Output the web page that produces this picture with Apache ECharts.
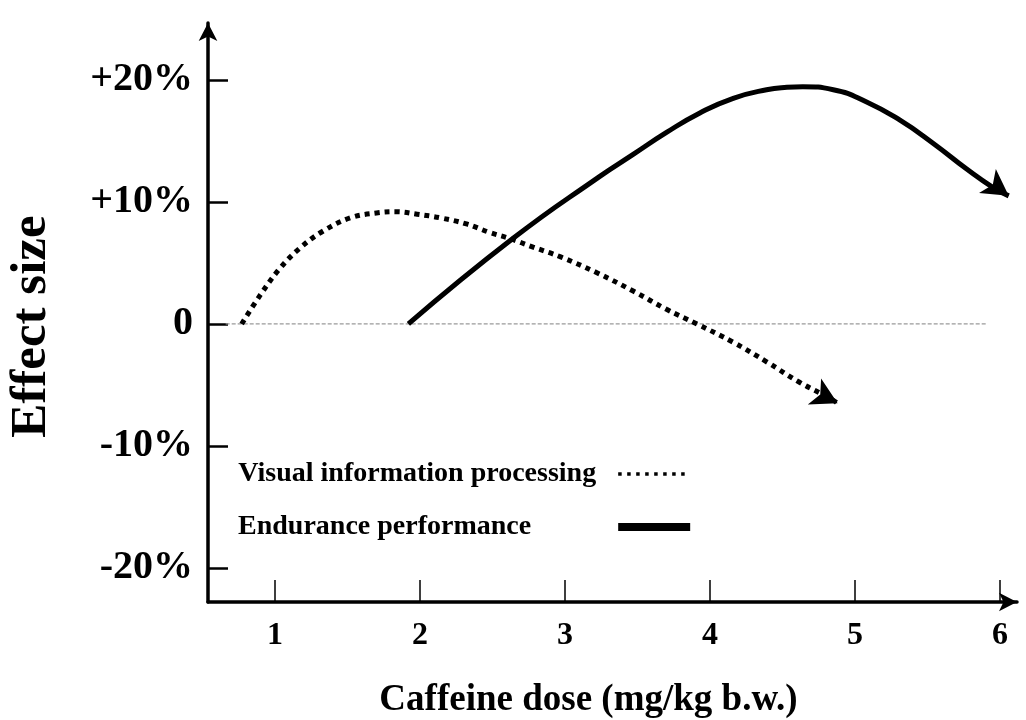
<!DOCTYPE html>
<html>
<head>
<meta charset="utf-8">
<title>Caffeine dose vs effect size</title>
<script src="https://cdn.jsdelivr.net/npm/echarts@6/dist/echarts.min.js"></script>
<style>
	html, body { margin: 0; padding: 0; background: #ffffff; }
	#chart { width: 1026px; height: 720px; }
</style>
</head>
<body>
<div id="chart"></div>
<script>
	// data (dose in mg/kg, effect in %)
	var seriesNames = ['Visual information processing', 'Endurance performance'];

	var visualDose = [0.77, 0.90, 1.03, 1.17, 1.33, 1.52, 1.70, 1.84, 1.98, 2.14, 2.32, 2.48, 2.62, 2.78, 2.97, 3.22, 3.47, 3.70, 3.91, 4.16, 4.39, 4.62, 4.83, 4.88];
	var visualEffect = [0, 2.4, 4.5, 6.2, 7.6, 8.7, 9.1, 9.2, 9.0, 8.7, 8.2, 7.5, 7.0, 6.3, 5.5, 4.2, 2.7, 1.2, 0, -1.5, -3.1, -4.8, -6.1, -6.5];

	var enduranceDose = [1.92, 2.64, 3.24, 3.47, 3.70, 3.93, 4.16, 4.39, 4.53, 4.64, 4.85, 5.08, 5.31, 5.54, 5.77, 5.95, 6.06];
	var enduranceEffect = [0, 7.0, 12.1, 13.9, 15.7, 17.3, 18.5, 19.2, 19.4, 19.45, 19.2, 18.2, 16.7, 14.8, 12.7, 11.2, 10.5];

	var zeroDose = [0.66, 5.91];
	var zeroEffect = [0, 0];

	var xTicks = [1, 2, 3, 4, 5, 6];
	var xTickLabels = ['1', '2', '3', '4', '5', '6'];
	var yTicks = [-20, -10, 0, 10, 20];
	var yTickLabels = ['-20%', '-10%', '0', '+10%', '+20%'];

	var font = '"Liberation Serif", "Times New Roman", serif';

	// legend: text left aligned, line samples lined up on the right
	var legendTextLeft = 238, legendIconLeft = 618, legendFontSize = 28;
	var ctx = document.createElement('canvas').getContext('2d');
	ctx.font = 'bold ' + legendFontSize + 'px ' + font;
	function padFor(name) {
		return Math.max(0, Math.round(legendIconLeft - 5 - legendTextLeft - ctx.measureText(name).width));
	}

	function pairs(xs, ys) {
		return xs.map(function(x, i) { return [x, ys[i]]; });
	}
	function withArrow(xs, ys, rotate) {
		var d = pairs(xs, ys);
		var last = d.length - 1;
		d[last] = {
			value: d[last],
			symbol: 'arrow',
			symbolSize: [22, 26],
			symbolRotate: rotate,
			itemStyle: { color: '#000000' }
		};
		return d;
	}

	var chart = echarts.init(document.getElementById('chart'));
	chart.setOption({
		backgroundColor: '#ffffff',
		animation: false,
		grid: {
			left: 208,
			right: 9,
			top: 23,
			bottom: 118,
			containLabel: false,
			outerBoundsMode: 'none'
		},
		legend: {
			orient: 'vertical',
			left: legendTextLeft - 5,
			top: 454,
			align: 'right',
			itemWidth: 72,
			itemHeight: 30,
			itemGap: 23,
			selectedMode: false,
			itemStyle: { opacity: 0 },
			textStyle: {
				fontFamily: font,
				fontWeight: 'bold',
				fontSize: legendFontSize,
				lineHeight: 30,
				color: '#000000'
			},
			data: [{
					name: seriesNames[0],
					textStyle: { padding: [0, padFor(seriesNames[0]), 0, 0] },
					itemStyle: { opacity: 0 },
					lineStyle: { width: 3.5, type: [3.5, 5.5], color: '#000000' }
				},
				{
					name: seriesNames[1],
					textStyle: { padding: [0, padFor(seriesNames[1]), 0, 0] },
					itemStyle: { opacity: 0 },
					lineStyle: { width: 8, type: 'solid', color: '#000000' }
				}
			]
		},
		xAxis: {
			type: 'value',
			min: 0.538,
			max: 6.117,
			axisLine: {
				onZero: false,
				symbol: ['none', 'arrow'],
				symbolSize: [14, 18],
				lineStyle: { color: '#000000', width: 3.5 }
			},
			axisTick: {
				inside: true,
				length: 22,
				customValues: xTicks,
				lineStyle: { color: '#000000', width: 1.5 }
			},
			axisLabel: {
				margin: 18,
				customValues: xTicks,
				formatter: function(v) { return xTickLabels[xTicks.indexOf(v)]; },
				fontFamily: font,
				fontWeight: 'bold',
				fontSize: 32,
				color: '#000000'
			},
			splitLine: { show: false },
			name: 'Caffeine dose (mg/kg b.w.)',
			nameLocation: 'middle',
			nameGap: 80,
			nameTextStyle: {
				fontFamily: font,
				fontWeight: 'bold',
				fontSize: 37,
				color: '#000000',
				padding: [0, 48, 0, 0]
			}
		},
		yAxis: {
			type: 'value',
			min: -22.79,
			max: 24.67,
			axisLine: {
				show: true,
				onZero: false,
				symbol: ['none', 'arrow'],
				symbolSize: [14, 18],
				lineStyle: { color: '#000000', width: 3.5 }
			},
			axisTick: {
				show: true,
				inside: true,
				length: 20,
				customValues: yTicks,
				lineStyle: { color: '#000000', width: 2.5 }
			},
			axisLabel: {
				margin: 15,
				customValues: yTicks,
				formatter: function(v) { return yTickLabels[yTicks.indexOf(v)]; },
				fontFamily: font,
				fontWeight: 'bold',
				fontSize: 40,
				color: '#000000'
			},
			splitLine: { show: false },
			name: 'Effect size',
			nameLocation: 'middle',
			nameGap: 151,
			nameRotate: 90,
			nameTextStyle: {
				fontFamily: font,
				fontWeight: 'bold',
				fontSize: 51,
				color: '#000000',
				padding: [0, 28, 0, 0]
			}
		},
		series: [{
				name: 'zero',
				type: 'line',
				silent: true,
				symbol: 'none',
				z: 1,
				data: pairs(zeroDose, zeroEffect),
				lineStyle: { color: '#9a9a9a', width: 1.2, type: [4, 2] }
			},
			{
				name: seriesNames[0],
				type: 'line',
				smooth: 0.4,
				symbol: 'none',
				showSymbol: true,
				data: withArrow(visualDose, visualEffect, -117),
				itemStyle: { color: '#000000' },
				lineStyle: { color: '#000000', width: 5, type: [5, 5], cap: 'butt' }
			},
			{
				name: seriesNames[1],
				type: 'line',
				smooth: 0.5,
				symbol: 'none',
				showSymbol: true,
				data: withArrow(enduranceDose, enduranceEffect, -125),
				itemStyle: { color: '#000000' },
				lineStyle: { color: '#000000', width: 5 }
			}
		]
	});
</script>
</body>
</html>
